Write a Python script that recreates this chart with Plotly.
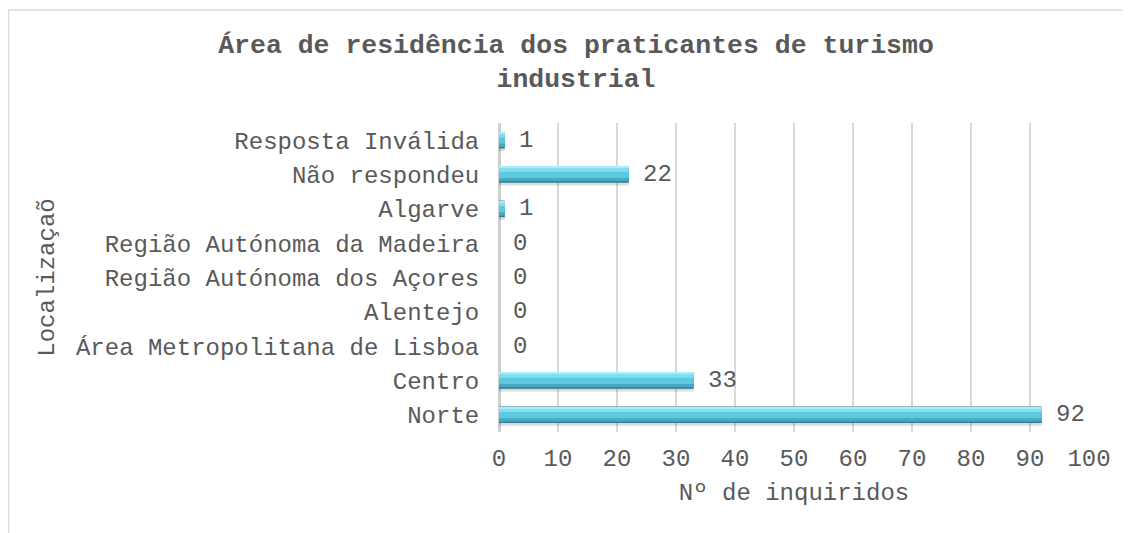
import plotly.graph_objects as go

categories = ["Norte", "Centro", "Área Metropolitana de Lisboa", "Alentejo",
              "Região Autónoma dos Açores", "Região Autónoma da Madeira",
              "Algarve", "Não respondeu", "Resposta Inválida"]
values = [92, 33, 0, 0, 0, 0, 1, 22, 1]
x_ticks = [0, 10, 20, 30, 40, 50, 60, 70, 80, 90, 100]

title_text = "Área de residência dos praticantes de turismo<br>industrial"
x_title = "Nº de inquiridos"
y_title = "Localizaçaõ"

# page has an 8px body margin; figure sized to fit the window
OFF = 8
W, H = 1130 - OFF, 533 - OFF
L = 499 - OFF
R = W - (1089 - OFF)
T = 123 - OFF
B = H - (432 - OFF)
MONO = "Liberation Mono, DejaVu Sans Mono, monospace"
GRAY = "#595959"

fig = go.Figure()

bw = 0.48
half = bw / 2
layers = [
    # (offset, width, color)
    (-half - 0.08, bw, "rgba(0,0,0,0.14)"),
    (-half, bw, "#2f7d92"),
    (-half + 0.04, bw - 0.06, "#45a9c2"),
    (-half + 0.14, bw - 0.18, "#5cc9df"),
    (half - 0.16, 0.13, "#82def0"),
    (half - 0.05, 0.03, "#a8eef9"),
]
for off, wd, col in layers:
    fig.add_trace(go.Bar(
        x=values, y=categories, orientation="h",
        width=wd, offset=off,
        marker=dict(color=col, line=dict(width=0)),
        hoverinfo="skip", showlegend=False,
    ))

for c, v in zip(categories, values):
    fig.add_annotation(
        x=v, y=c, xref="x", yref="y", text=str(v),
        showarrow=False, xanchor="left", xshift=12,
        font=dict(family=MONO, size=24, color=GRAY),
    )

# chart border (extends beyond the visible window on right/bottom)
pw = W - L - R
ph = H - T - B
fig.add_shape(
    type="rect", xref="paper", yref="paper",
    x0=(0.5 - L) / pw, x1=(W + 50 - L) / pw,
    y0=(H - B - (H + 50)) / ph, y1=(H - B - 2) / ph,
    line=dict(color="#d9d9d9", width=1.5), fillcolor="rgba(0,0,0,0)",
    layer="below",
)

fig.update_layout(
    width=W, height=H,
    margin=dict(l=L, r=R, t=T, b=B, autoexpand=False),
    paper_bgcolor="white", plot_bgcolor="white",
    barmode="overlay",
    title=dict(
        text=title_text, x=(576 - OFF) / W, xanchor="center",
        y=1 - 45 / H, yanchor="middle",
        font=dict(family=MONO, size=26.5, color=GRAY, weight="bold"),
    ),
    xaxis=dict(
        range=[0, 100], tickvals=x_ticks, ticktext=[str(t) for t in x_ticks],
        showgrid=True, gridcolor="#d9d9d9", gridwidth=1.5,
        zeroline=True, zerolinecolor="#d0d0d0", zerolinewidth=2.5,
        showline=False, ticks="outside", ticklen=4, tickcolor="rgba(0,0,0,0)",
        tickfont=dict(family=MONO, size=24, color=GRAY),
        title=dict(text=x_title, font=dict(family=MONO, size=24, color=GRAY), standoff=11),
        fixedrange=True,
    ),
    yaxis=dict(
        type="category", categoryorder="array", categoryarray=categories,
        showgrid=False, showline=False, zeroline=False,
        ticks="outside", ticklen=14, tickcolor="rgba(0,0,0,0)",
        tickfont=dict(family=MONO, size=24, color=GRAY),
        title=dict(text=y_title, font=dict(family=MONO, size=24, color=GRAY), standoff=14),
        range=[-0.5, len(categories) - 0.5],
        fixedrange=True,
    ),
)

fig.write_html("out.html", config={"displayModeBar": False})
